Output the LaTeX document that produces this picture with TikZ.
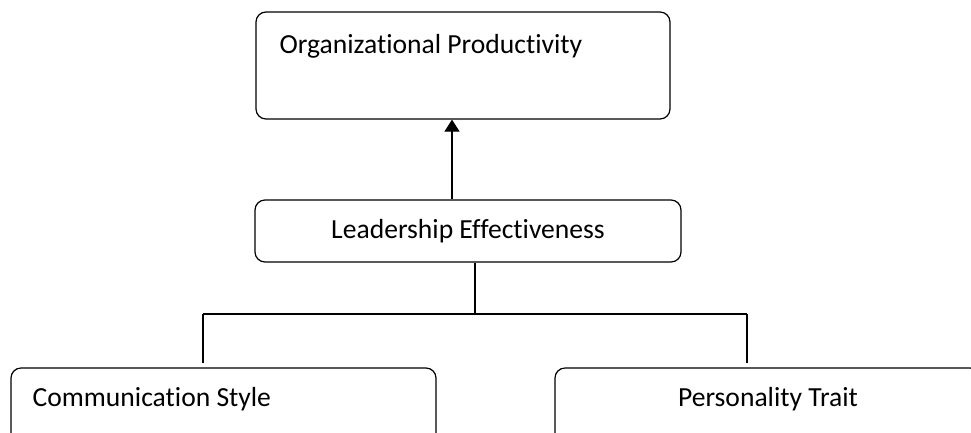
\documentclass[tikz,border=0pt]{standalone}
\usepackage{fontspec}
\setmainfont[Ligatures=NoCommon]{Carlito}
\usetikzlibrary{arrows.meta}

\tikzset{
  factor/.style={draw,rounded corners=10pt,line width=1.2pt,inner sep=0pt},
  lbl/.style={inner sep=0pt,font=\fontsize{27.6}{30}\selectfont}
}

\begin{document}
\begin{tikzpicture}[x=1pt,y=-1pt,>={Triangle[width=15pt,length=12pt]},line width=1.2pt]
\useasboundingbox (0,0) rectangle (971,432);
\clip (0,0) rectangle (971,432);
\node[factor,minimum width=414pt,minimum height=107pt] (OP) at (463,65.5) {};
\node[lbl,anchor=base west] (OPt) at (279,53) {Organizational Productivity};
\node[factor,minimum width=426pt,minimum height=62pt] (LE) at (468,231) {};
\node[lbl,anchor=base] (LEt) at (468,238) {Leadership Effectiveness};
\node[factor,minimum width=425pt,minimum height=80pt] (CS) at (223.5,408) {};
\node[lbl,anchor=base west] (CSt) at (32,406) {Communication Style};
\node[factor,minimum width=425pt,minimum height=80pt] (PT) at (767.5,408) {};
\node[lbl,anchor=base] (PTt) at (768,406) {Personality Trait};
\coordinate (ax) at (452,0);
\coordinate (tx) at (475,0);
\coordinate (bar) at (0,314);
\coordinate (lx) at (203,0);
\coordinate (rx) at (747,0);
\coordinate (gap) at (0,363);
\draw[->] (LE.north -| ax) -- (OP.south -| ax);
\draw (LE.south -| tx) -- (bar -| tx);
\draw (bar -| lx) -- (bar -| rx);
\draw (bar -| lx) -- (gap -| lx);
\draw (bar -| rx) -- (gap -| rx);
\end{tikzpicture}
\end{document}
